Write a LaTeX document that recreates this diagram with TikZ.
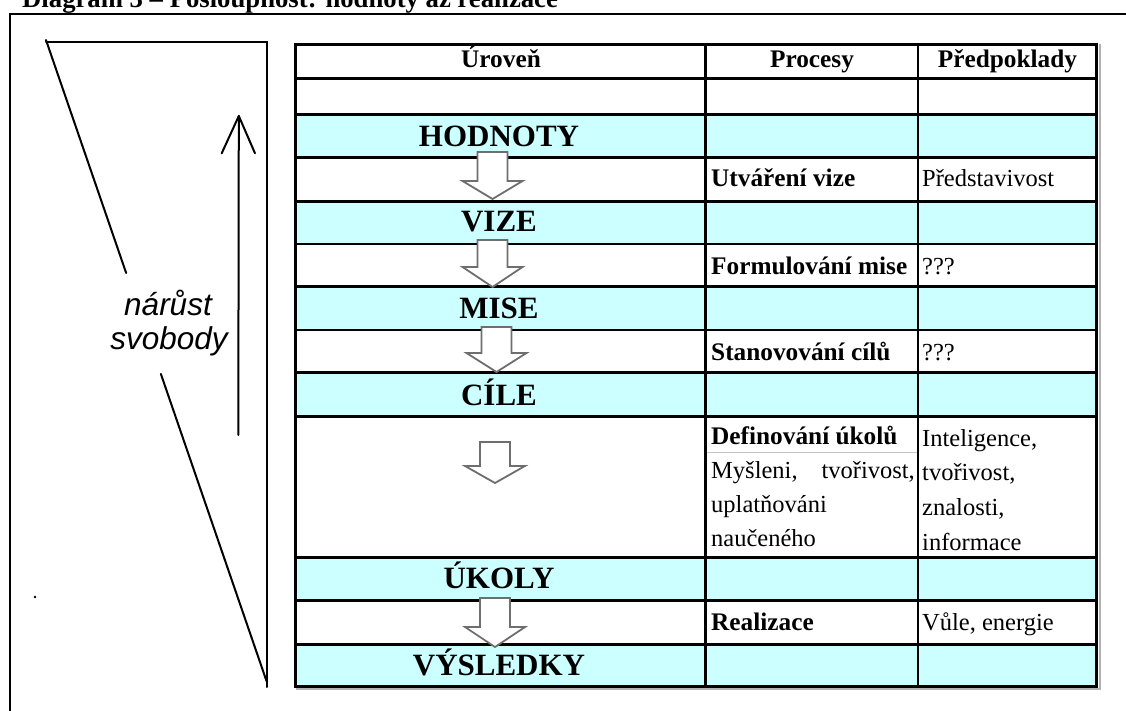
\documentclass[tikz,border=0pt]{standalone}
\usepackage{fontspec}
\setmainfont{Liberation Serif}
\newfontfamily\arialfont{Liberation Sans}
\usetikzlibrary{calc}
\definecolor{rowcyan}{HTML}{CCFFFF}
\definecolor{arrowgray}{HTML}{6E6E6E}

% hollow down arrow between two levels: centre x, top, neck, tip
\newcommand\levelarrow[4]{%
  \draw[blockarrow] (#1-15,#2) -- (#1+15,#2) -- (#1+15,#3) -- (#1+30,#3)
    -- (#1,#4) -- (#1-30,#3) -- (#1-15,#3) -- cycle;}

\begin{document}
\begin{tikzpicture}[x=1pt,y=-1pt,
  frameline/.style={line width=2pt, black},
  sketchline/.style={line width=2pt, black, line cap=round},
  gridline/.style={line width=2.5pt, black},
  outerline/.style={line width=3.5pt, black},
  blockarrow/.style={draw=arrowgray, line width=1.8pt, fill=white, line join=miter},
  levellabel/.style={anchor=base, inner sep=0pt, font=\fontsize{31}{36}\selectfont\bfseries},
  headlabel/.style={anchor=base, inner sep=0pt, font=\fontsize{25.3}{30}\selectfont\bfseries},
  proclabel/.style={anchor=base west, inner sep=0pt, font=\fontsize{25.3}{30}\selectfont\bfseries},
  plaintext/.style={anchor=base west, inner sep=0pt, font=\fontsize{24.5}{30}\selectfont},
  sidelabel/.style={anchor=base, inner sep=0pt, font=\arialfont\itshape\fontsize{31.5}{34}\selectfont},
]
\useasboundingbox (0,0) rectangle (1126,711);

% caption above the frame
\node[anchor=base west, inner sep=0pt, font=\fontsize{26.7}{32}\selectfont\bfseries]
  (title) at (22,8) {Diagram 3 – Posloupnost: hodnoty až realizace};

% open frame
\coordinate (frameBL) at (10,730);
\coordinate (frameTL) at (10,14.3);
\coordinate (frameTR) at (1140,14.3);
\draw[frameline] (frameBL) -- (frameTL) -- (frameTR);

% wedge of growing freedom
\coordinate (apex) at (46,40);
\coordinate (wedgeTL) at (46,42.5);
\coordinate (wedgeTR) at (266.5,42.5);
\coordinate (wedgeBR) at (266.5,687);
\coordinate (foot) at (266.5,681);
\draw[sketchline] (wedgeTL) -- (wedgeTR) -- (wedgeBR);
\draw[sketchline] (apex) -- ($(apex)!0.3635!(foot)$);
\draw[sketchline] ($(apex)!0.521!(foot)$) -- (foot);

% upward arrow
\coordinate (upTail) at (238.3,435);
\coordinate (upTip) at (238.8,116);
\coordinate (upL) at (221.7,153.3);
\coordinate (upR) at (255,153.3);
\draw[sketchline] (upTail) -- (upTip);
\draw[sketchline, line join=round] (upL) -- (upTip) -- (upR);

\node[sidelabel] (narust) at (168,315) {nárůst};
\node[sidelabel] (svobody) at (169,349) {svobody};
\fill (35,597) circle (1.3);

% table: shaded level rows
\foreach \ya/\yb in {114.7/157.5, 201.5/244, 286.5/330, 372.5/416.5, 557.5/600.5, 644.3/686.3}
  \fill[rowcyan] (295.5,\ya) rectangle (1096.5,\yb);

% table rules
\foreach \y in {78.5,114.7,157.5,201.5,244,286.5,330,372.5,416.5,557.5,600.5,644.3}
  \draw[gridline] (295.5,\y) -- (1096.5,\y);
\draw[gridline] (705.5,44.5) -- (705.5,686.3);
\draw[gridline] (918,44.5) -- (918,686.3);
\draw[gray!45, line width=1pt] (706.5,452) -- (917,452);
\draw[gray!60, line width=2pt] (1099.5,44) -- (1099.5,689) -- (296,689);
\draw[outerline] (295.5,44.5) rectangle (1096.5,686.3);

% header
\node[headlabel] (hLevel) at (501,68) {Úroveň};
\node[headlabel] (hProc) at (812,68) {Procesy};
\node[headlabel] (hReq) at (1007.5,68) {Předpoklady};

% levels
\node[levellabel] (lHodnoty) at (499,147) {HODNOTY};
\node[levellabel] (lVize) at (499,232) {VIZE};
\node[levellabel] (lMise) at (499,318) {MISE};
\node[levellabel] (lCile) at (499,405) {CÍLE};
\node[levellabel] (lUkoly) at (499,588) {ÚKOLY};
\node[levellabel] (lVysledky) at (499,675) {VÝSLEDKY};

% arrows between levels
\levelarrow{492.5}{152}{181}{199}
\levelarrow{492.5}{240}{267}{287}
\levelarrow{496.5}{327}{353}{372}
\levelarrow{495}{442}{466}{483}
\levelarrow{495}{598}{627}{647}

% processes
\node[proclabel] (pVize) at (711,187) {Utváření vize};
\node[proclabel] (pMise) at (711,274) {Formulování mise};
\node[proclabel] (pCile) at (711,360) {Stanovování cílů};
\node[proclabel] (pUkoly) at (711,444) {Definování úkolů};
\node[plaintext] (pUkolyA) at (711,478) {Myšleni,};
\node[plaintext, anchor=base east] (pUkolyB) at (915,478) {tvořivost,};
\node[plaintext] (pUkolyC) at (711,512) {uplatňováni};
\node[plaintext] (pUkolyD) at (711,546) {naučeného};
\node[proclabel] (pReal) at (711,630) {Realizace};

% prerequisites
\node[plaintext] (rVize) at (922,187) {Představivost};
\node[plaintext] (rMise) at (922,274) {???};
\node[plaintext] (rCile) at (922,360) {???};
\node[plaintext] (rUkolyA) at (922,446) {Inteligence,};
\node[plaintext] (rUkolyB) at (922,480) {tvořivost,};
\node[plaintext] (rUkolyC) at (922,515) {znalosti,};
\node[plaintext] (rUkolyD) at (922,550) {informace};
\node[plaintext] (rReal) at (922,630) {Vůle, energie};
\end{tikzpicture}
\end{document}
